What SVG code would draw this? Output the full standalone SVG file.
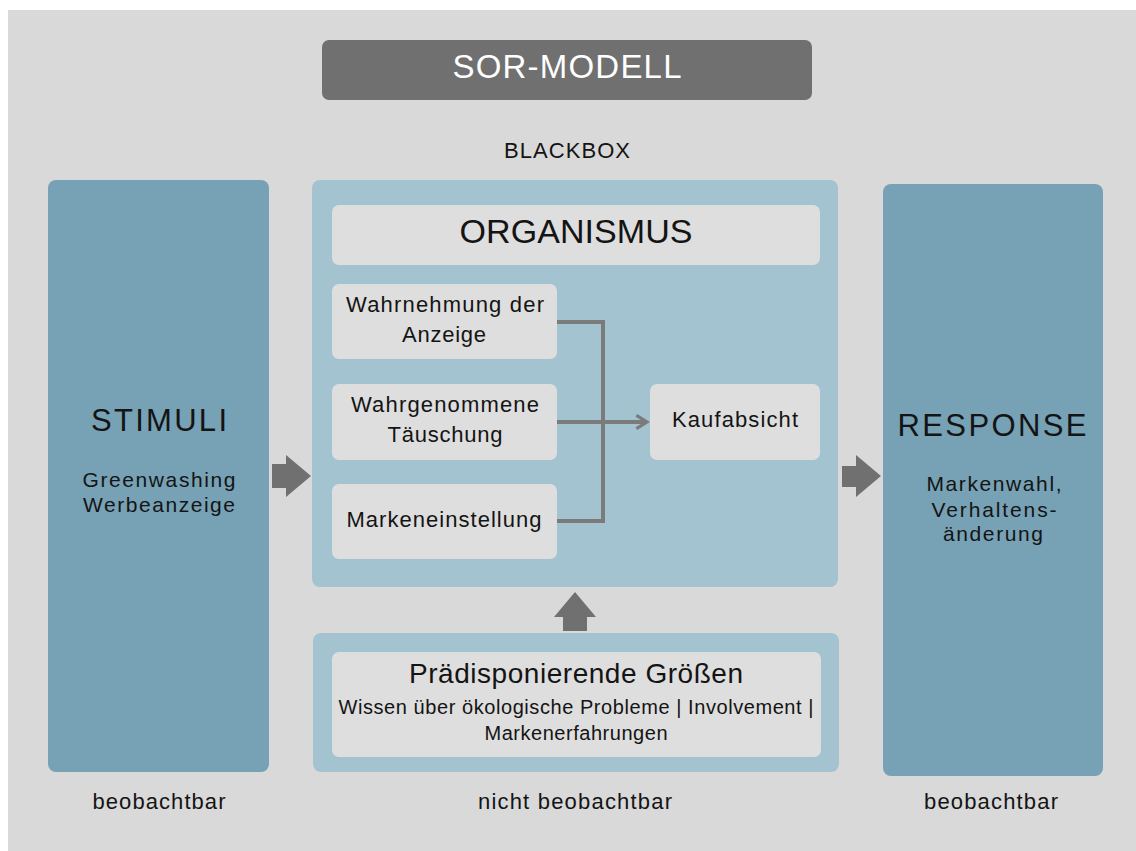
<svg xmlns="http://www.w3.org/2000/svg" width="1136" height="851" viewBox="0 0 1136 851">
<defs>
<style>
text{font-family:"Liberation Sans",Arial,sans-serif;fill:#141414;text-anchor:middle}
.dark{fill:#77a1b5}
.light{fill:#a4c3d1}
.inner{fill:#dedede}
.big{font-size:31px}
.mid{font-size:21px}
.sm{font-size:22px}
.lab{font-size:22px}
.conn{fill:none;stroke:#7b7b7b;stroke-width:4}
.arr{fill:#707070}
</style>
<marker id="chev" viewBox="0 0 12 12" refX="10" refY="6" markerWidth="4" markerHeight="4" orient="auto" markerUnits="strokeWidth">
<path d="M2,1 L10,6 L2,11" fill="none" stroke="#7b7b7b" stroke-width="2.4"/>
</marker>
</defs>
<rect x="8" y="10" width="1128" height="841" fill="#d9d9d9"/>

<g id="title">
<rect x="322" y="40" width="490" height="60" rx="7" fill="#707070"/>
<text x="567" y="78" font-size="33" textLength="229" style="fill:#ffffff">SOR-MODELL</text>
</g>
<g id="blackbox-label"><text x="567" y="158" font-size="22" textLength="126">BLACKBOX</text></g>

<g id="stimuli">
<rect class="dark" x="48" y="180" width="221" height="592" rx="8"/>
<text class="big" x="159" y="431" textLength="136">STIMULI</text>
<text class="mid" x="159" y="487" textLength="153">Greenwashing</text>
<text class="mid" x="159" y="512" textLength="152">Werbeanzeige</text>
</g>

<g id="blackbox">
<rect class="light" x="312" y="180" width="526" height="407" rx="8"/>
</g>
<g id="organismus">
<rect class="inner" x="332" y="205" width="488" height="60" rx="7"/>
<text x="576" y="243" font-size="34" textLength="233">ORGANISMUS</text>
</g>
<g id="wahrnehmung">
<rect class="inner" x="332" y="284" width="225" height="75" rx="7"/>
<text class="sm" x="445" y="312" textLength="198">Wahrnehmung der</text>
<text class="sm" x="444" y="342" textLength="84">Anzeige</text>
</g>
<g id="taeuschung">
<rect class="inner" x="332" y="384" width="225" height="76" rx="7"/>
<text class="sm" x="445" y="412" textLength="188">Wahrgenommene</text>
<text class="sm" x="445" y="442" textLength="115">Täuschung</text>
</g>
<g id="markeneinstellung">
<rect class="inner" x="332" y="484" width="225" height="75" rx="7"/>
<text class="sm" x="444" y="527" textLength="195">Markeneinstellung</text>
</g>
<g id="kaufabsicht">
<rect class="inner" x="650" y="384" width="170" height="76" rx="7"/>
<text class="sm" x="735" y="427" textLength="126">Kaufabsicht</text>
</g>

<g id="praedisponierende">
<rect class="light" x="313" y="633" width="526" height="139" rx="8"/>
<rect class="inner" x="332" y="652" width="489" height="105" rx="7"/>
<text x="576" y="683" font-size="28" textLength="334">Prädisponierende Größen</text>
<text x="576" y="714" font-size="20" textLength="475">Wissen über ökologische Probleme | Involvement |</text>
<text x="576" y="740" font-size="20" textLength="183">Markenerfahrungen</text>
</g>

<g id="response">
<rect class="dark" x="883" y="184" width="220" height="592" rx="8"/>
<text class="big" x="992" y="436" textLength="189">RESPONSE</text>
<text class="mid" x="994" y="491" textLength="135">Markenwahl,</text>
<text class="mid" x="994" y="517" textLength="125">Verhaltens-</text>
<text class="mid" x="993" y="541" textLength="100">änderung</text>
</g>

<g id="connectors">
<path class="conn" d="M557,322 H603 V521 H557"/>
<path class="conn" d="M557,422 H647" marker-end="url(#chev)"/>
<path class="arr" d="M272,464 H286 V455 L311,476 L286,497 V488 H272 Z"/>
<path class="arr" d="M842,466 H856 V455 L881,476 L856,497 V487 H842 Z"/>
<path class="arr" d="M563,631 V617 H554 L575,592 L596,617 H587 V631 Z"/>
</g>

<g id="footer">
<text class="lab" x="159" y="809" textLength="133">beobachtbar</text>
<text class="lab" x="575" y="809" textLength="194">nicht beobachtbar</text>
<text class="lab" x="991" y="809" textLength="134">beobachtbar</text>
</g>
</svg>
